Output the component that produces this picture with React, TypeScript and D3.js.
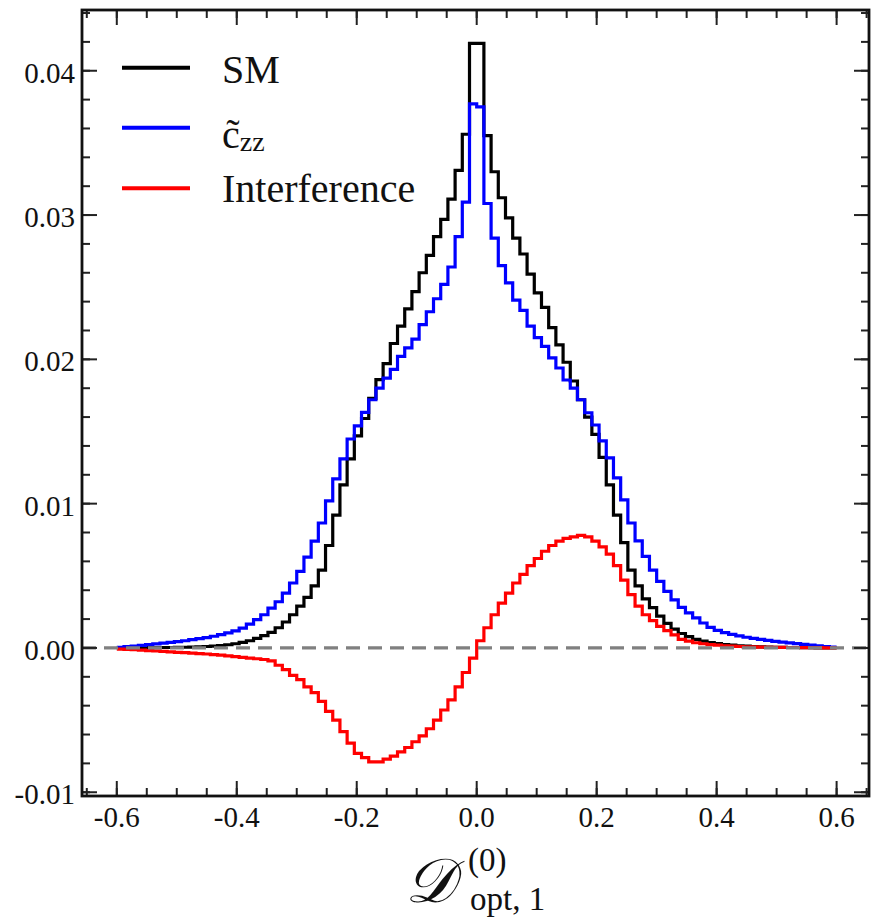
import React from 'react';
import * as d3 from 'd3';

const BIN_START = -0.6;
const BIN_WIDTH = 0.012;

const smValues = [
  0.00001, 0.00001, 0.00001, 0.00001, 0.00002, 0.00002, 0.00003, 0.00003, 0.00004, 0.00005,
  0.00006, 0.00008, 0.0001, 0.00012, 0.00016, 0.00022, 0.00029, 0.00038, 0.0005, 0.00066,
  0.00085, 0.00108, 0.0014, 0.0018, 0.0023, 0.0029, 0.0035, 0.0043, 0.0054, 0.0071,
  0.0092, 0.0113, 0.0131, 0.0147, 0.0159, 0.0173, 0.0186, 0.0197, 0.0211, 0.0223,
  0.0235, 0.0247, 0.026, 0.0272, 0.0285, 0.0297, 0.0311, 0.0331, 0.0356, 0.0419,
  0.0419, 0.0355, 0.033, 0.0312, 0.0298, 0.0284, 0.0273, 0.0259, 0.0246, 0.0236,
  0.0222, 0.021, 0.0198, 0.0185, 0.0172, 0.016, 0.0148, 0.0132, 0.0113, 0.0092,
  0.0073, 0.0054, 0.0043, 0.0034, 0.0028, 0.0022, 0.0017, 0.0013, 0.001, 0.00078,
  0.0006, 0.00047, 0.00037, 0.0003, 0.00024, 0.00019, 0.00015, 0.00012, 0.0001, 0.00008,
  0.00006, 0.00005, 0.00004, 0.00003, 0.00003, 0.00002, 0.00002, 0.00001, 0.00001, 0.00001,
];

const czzValues = [
  0.00005, 0.00009, 0.00013, 0.00018, 0.00023, 0.00028, 0.00033, 0.00038, 0.00044, 0.0005,
  0.00057, 0.00064, 0.00072, 0.00081, 0.00092, 0.00104, 0.00118, 0.00137, 0.00165, 0.00196,
  0.0023, 0.00276, 0.0032, 0.0038, 0.0045, 0.0053, 0.0063, 0.0074, 0.00866, 0.01019,
  0.01171, 0.0131, 0.01448, 0.01539, 0.01632, 0.0172, 0.018, 0.0187, 0.0193, 0.0202,
  0.0208, 0.0214, 0.0224, 0.0233, 0.0242, 0.0252, 0.0264, 0.0285, 0.0309, 0.0377,
  0.0375, 0.0308, 0.0284, 0.0265, 0.0253, 0.0241, 0.0234, 0.0223, 0.0215, 0.0209,
  0.0201, 0.0194, 0.01857, 0.018, 0.0172, 0.0163, 0.01545, 0.01435, 0.01317, 0.01178,
  0.01026, 0.00866, 0.00742, 0.00634, 0.0054, 0.00461, 0.00392, 0.00333, 0.00281, 0.00243,
  0.00208, 0.00173, 0.00142, 0.00122, 0.00106, 0.00094, 0.00083, 0.00074, 0.00066, 0.00059,
  0.00052, 0.00046, 0.0004, 0.00035, 0.0003, 0.00025, 0.0002, 0.00015, 0.0001, 0.00006,
];

const interferenceValues = [
  -0.00008, -0.0001, -0.00012, -0.00015, -0.00018, -0.00021, -0.00024, -0.00027, -0.0003, -0.00033,
  -0.00036, -0.00039, -0.00042, -0.00046, -0.0005, -0.00055, -0.0006, -0.00065, -0.0007, -0.00075,
  -0.0008, -0.0009, -0.0012, -0.0015, -0.0019, -0.0022, -0.0027, -0.0031, -0.0037, -0.0044,
  -0.005, -0.0058, -0.0066, -0.0073, -0.0076, -0.0079, -0.0079, -0.0077, -0.0075, -0.0072,
  -0.0069, -0.0065, -0.0061, -0.0056, -0.005, -0.0043, -0.0036, -0.0027, -0.0017, -0.0007,
  0.0005, 0.0014, 0.0023, 0.0031, 0.0038, 0.0045, 0.0051, 0.0057, 0.0062, 0.0067,
  0.0071, 0.0074, 0.0076, 0.0077, 0.0078, 0.0077, 0.0074, 0.007, 0.0065, 0.0057,
  0.0047, 0.0037, 0.0029, 0.0023, 0.0019, 0.0015, 0.0012, 0.0009, 0.0006, 0.00047,
  0.00036, 0.00029, 0.00023, 0.00019, 0.00015, 0.00012, 0.0001, 0.00008, 0.00007, 0.00006,
  0.00005, 0.00004, 0.00004, 0.00003, 0.00003, 0.00002, 0.00002, 0.00002, 0.00001, 0.00001,
];

const seriesNames = ['SM', 'czz', 'Interference'];
const seriesColors = ['#000000', '#0000ff', '#ff0000'];

const xMajorTicks = [-0.6, -0.4, -0.2, 0, 0.2, 0.4, 0.6];
const xTickLabels = ['-0.6', '-0.4', '-0.2', '0.0', '0.2', '0.4', '0.6'];
const yMajorTicks = [-0.01, 0, 0.01, 0.02, 0.03, 0.04];
const yTickLabels = ['-0.01', '0.00', '0.01', '0.02', '0.03', '0.04'];

const W = 871;
const H = 920;
const L = 82, R = 869, T = 10, B = 796;
const FONT = '"Liberation Serif", "Times New Roman", "DejaVu Serif", serif';

export default function App() {
  const x = d3.scaleLinear().domain([-0.658, 0.654]).range([L, R]);
  const y = d3.scaleLinear().domain([-0.01026, 0.04421]).range([B, T]);

  const xMinor = d3.range(-13, 14).map((i) => i * 0.05).filter((v) => x(v) > L + 1 && x(v) < R - 1);
  const yMinor = d3.range(-5, 23).map((i) => i * 0.002).filter((v) => y(v) < B - 1 && y(v) > T + 1);

  const line = d3
    .line<[number, number]>()
    .x((d) => x(d[0]))
    .y((d) => y(d[1]))
    .curve(d3.curveStepAfter);

  const toPoints = (vals: number[]): [number, number][] => {
    const pts: [number, number][] = vals.map((v, i) => [BIN_START + i * BIN_WIDTH, v]);
    pts.push([BIN_START + vals.length * BIN_WIDTH, vals[vals.length - 1]]);
    return pts;
  };

  const allSeries = [smValues, czzValues, interferenceValues];
  const legendY = [67.7, 127.7, 188.3];

  return (
    <svg width={W} height={H} style={{ display: 'block', position: 'absolute', left: 0, top: 0, background: '#fff' }}>
      <rect x={0} y={0} width={W} height={H} fill="#fff" />
      {allSeries.map((vals, i) => (
        <path key={seriesNames[i]} d={line(toPoints(vals)) || ''} fill="none" stroke={seriesColors[i]} strokeWidth={3.2} strokeLinejoin="miter" />
      ))}
      <line x1={L} x2={R} y1={y(0)} y2={y(0)} stroke="#808080" strokeWidth={3.2} strokeDasharray="14 8" />

      <g stroke="#222" strokeWidth={2}>
        {xMajorTicks.map((v) => (
          <g key={'xM' + v}>
            <line x1={x(v)} x2={x(v)} y1={B} y2={B - 15} />
            <line x1={x(v)} x2={x(v)} y1={T} y2={T + 15} />
          </g>
        ))}
        {xMinor.map((v) => (
          <g key={'xm' + v}>
            <line x1={x(v)} x2={x(v)} y1={B} y2={B - 8} />
            <line x1={x(v)} x2={x(v)} y1={T} y2={T + 8} />
          </g>
        ))}
        {yMajorTicks.map((v) => (
          <g key={'yM' + v}>
            <line x1={L} x2={L + 15} y1={y(v)} y2={y(v)} />
            <line x1={R} x2={R - 15} y1={y(v)} y2={y(v)} />
          </g>
        ))}
        {yMinor.map((v) => (
          <g key={'ym' + v}>
            <line x1={L} x2={L + 8} y1={y(v)} y2={y(v)} />
            <line x1={R} x2={R - 8} y1={y(v)} y2={y(v)} />
          </g>
        ))}
      </g>
      <rect x={L} y={T} width={R - L} height={B - T} fill="none" stroke="#111" strokeWidth={2.8} />

      <g fontFamily={FONT} fontSize={29} fill="#111">
        {xMajorTicks.map((v, i) => (
          <text key={'xl' + v} x={x(v)} y={827} textAnchor="middle">{xTickLabels[i]}</text>
        ))}
        {yMajorTicks.map((v, i) => (
          <text key={'yl' + v} x={75} y={y(v) + 12} textAnchor="end">{yTickLabels[i]}</text>
        ))}
      </g>

      {seriesColors.map((c, i) => (
        <line key={'lg' + i} x1={122} x2={190} y1={legendY[i]} y2={legendY[i]} stroke={c} strokeWidth={4} />
      ))}
      <g fontFamily={FONT} fill="#111">
        <text x={222} y={83} fontSize={40}>SM</text>
        <text x={222} y={148} fontSize={40}>{'c\u0303'}<tspan fontSize={28} dy={3}>zz</tspan></text>
        <text x={222} y={202} fontSize={40}>Interference</text>
      </g>

      <g fontFamily={FONT} fill="#111">
        <text x={405} y={902} fontSize={62} fontStyle="italic">{'\uD835\uDC9F'}</text>
        <text x={468} y={871} fontSize={33}>(0)</text>
        <text x={470} y={910} fontSize={33}>opt, 1</text>
      </g>
    </svg>
  );
}
